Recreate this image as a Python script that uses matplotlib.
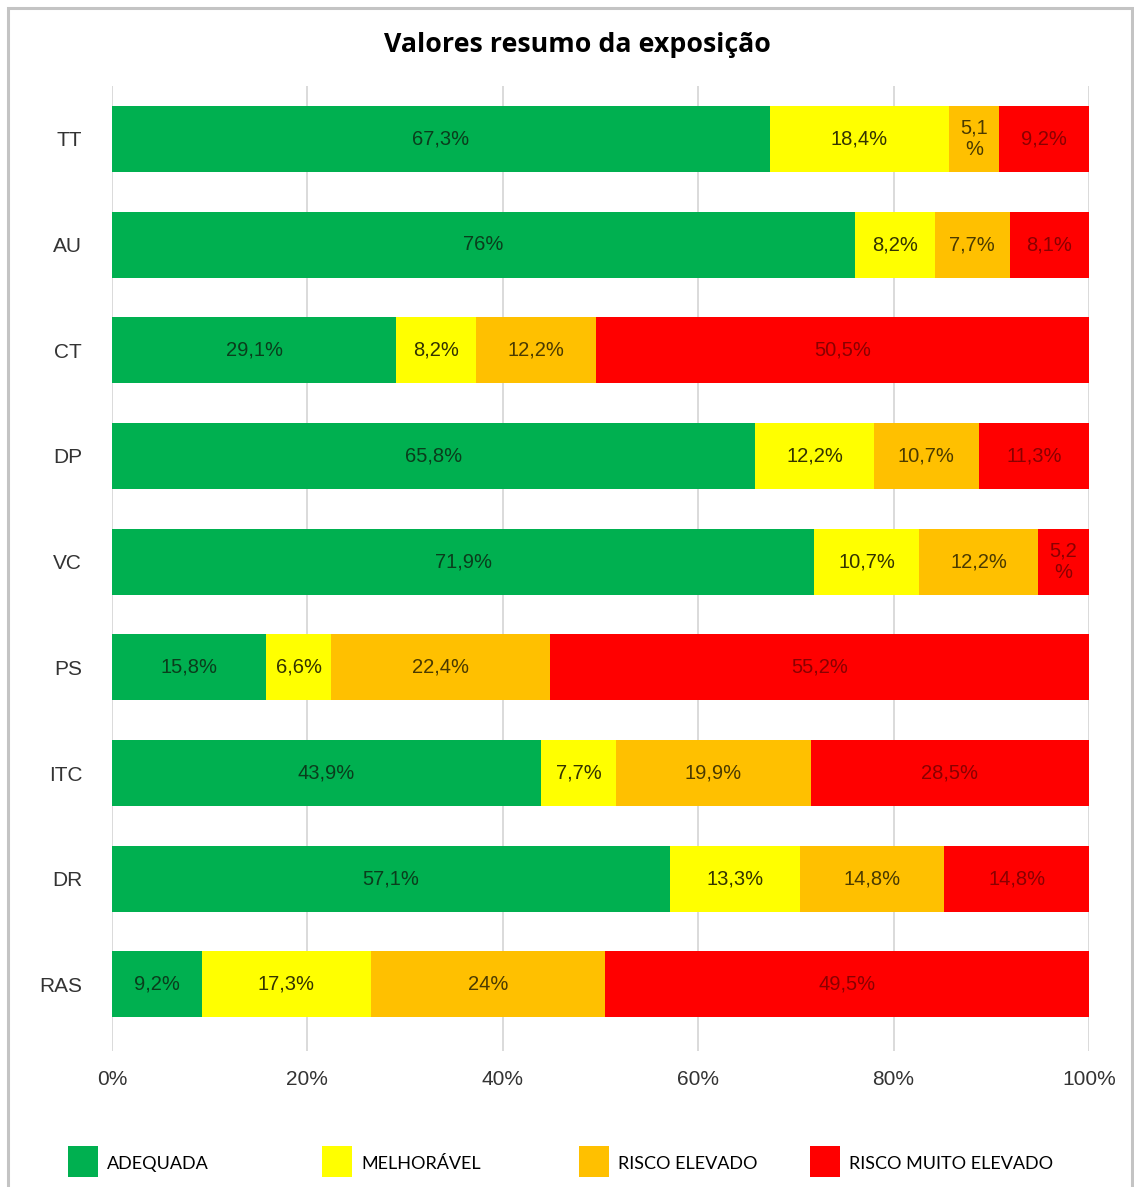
import matplotlib
matplotlib.use("Agg")
import matplotlib.pyplot as plt
from matplotlib.patches import Rectangle

categories = ["TT", "AU", "CT", "DP", "VC", "PS", "ITC", "DR", "RAS"]
series_names = ["ADEQUADA", "MELHORÁVEL", "RISCO ELEVADO", "RISCO MUITO ELEVADO"]
adequada = [67.3, 76, 29.1, 65.8, 71.9, 15.8, 43.9, 57.1, 9.2]
melhoravel = [18.4, 8.2, 8.2, 12.2, 10.7, 6.6, 7.7, 13.3, 17.3]
risco_elevado = [5.1, 7.7, 12.2, 10.7, 12.2, 22.4, 19.9, 14.8, 24]
risco_muito_elevado = [9.2, 8.1, 50.5, 11.3, 5.2, 55.2, 28.5, 14.8, 49.5]
xticks = [0, 20, 40, 60, 80, 100]
xtick_labels = ["0%", "20%", "40%", "60%", "80%", "100%"]
title = "Valores resumo da exposição"

colors = ["#00B050", "#FFFF00", "#FFC000", "#FF0000"]
text_colors = ["#0a3d1c", "#333300", "#4a3a00", "#8a0000"]

W, H = 1134, 1187
fig = plt.figure(figsize=(W / 100, H / 100), dpi=100)
fig.patch.set_facecolor("white")

# outer frame
fig.patches.append(Rectangle((8 / W, -0.05), (1132 - 8) / W, 1.05 - 8 / H,
                             transform=fig.transFigure, fill=False,
                             edgecolor="#c4c4c4", linewidth=2.2))

ax = fig.add_axes([112 / W, 1 - 1051 / H, (1089 - 112) / W, (1051 - 86) / H])
ax.set_facecolor("white")

pos = list(range(len(categories)))
data = [adequada, melhoravel, risco_elevado, risco_muito_elevado]
left = [0.0] * len(categories)
for s, vals in enumerate(data):
    bars = ax.barh(pos, vals, left=left, height=0.625, color=colors[s],
                   label=series_names[s], zorder=2)
    for i, (b, v) in enumerate(zip(bars, vals)):
        txt = (f"{v:.0f}" if float(v).is_integer() else f"{v:.1f}".replace(".", ","))
        if v < 6:
            lab = txt + "\n%"
        else:
            lab = txt + "%"
        ax.text(left[i] + v / 2, i, lab, ha="center", va="center",
                fontsize=14.5, color=text_colors[s], family="Liberation Sans",
                linespacing=1.2, zorder=3)
    left = [l + v for l, v in zip(left, vals)]

ax.set_xlim(0, 100)
ax.set_ylim(8.63, -0.5)
ax.set_yticks(pos)
ax.set_yticklabels(categories, family="Liberation Sans", fontsize=15, color="#333333")
ax.set_xticks(xticks)
ax.set_xticklabels(xtick_labels, family="Liberation Sans", fontsize=15, color="#333333")
ax.tick_params(axis="y", length=0, pad=21.5)
ax.tick_params(axis="x", length=0, pad=13.5)
ax.grid(axis="x", color="#d4d4d4", linewidth=1.2, zorder=0)
ax.set_axisbelow(True)
for sp in ax.spines.values():
    sp.set_visible(False)

fig.text(577 / W, 1 - 45 / H, title, ha="center", va="center",
         fontsize=19.3, fontweight="bold", family="Open Sans", color="black")

# legend
leg_x = [68, 322, 579, 810]
for k, name in enumerate(series_names):
    fig.patches.append(Rectangle((leg_x[k] / W, 1 - 1177 / H), 30 / W, 31 / H,
                                 transform=fig.transFigure, facecolor=colors[k],
                                 edgecolor="none"))
    fig.text((leg_x[k] + 39) / W, 1 - 1164 / H, name, ha="left", va="center",
             fontsize=13, family="Lato", color="black")

fig.savefig("out.png", dpi=100, facecolor="white")
